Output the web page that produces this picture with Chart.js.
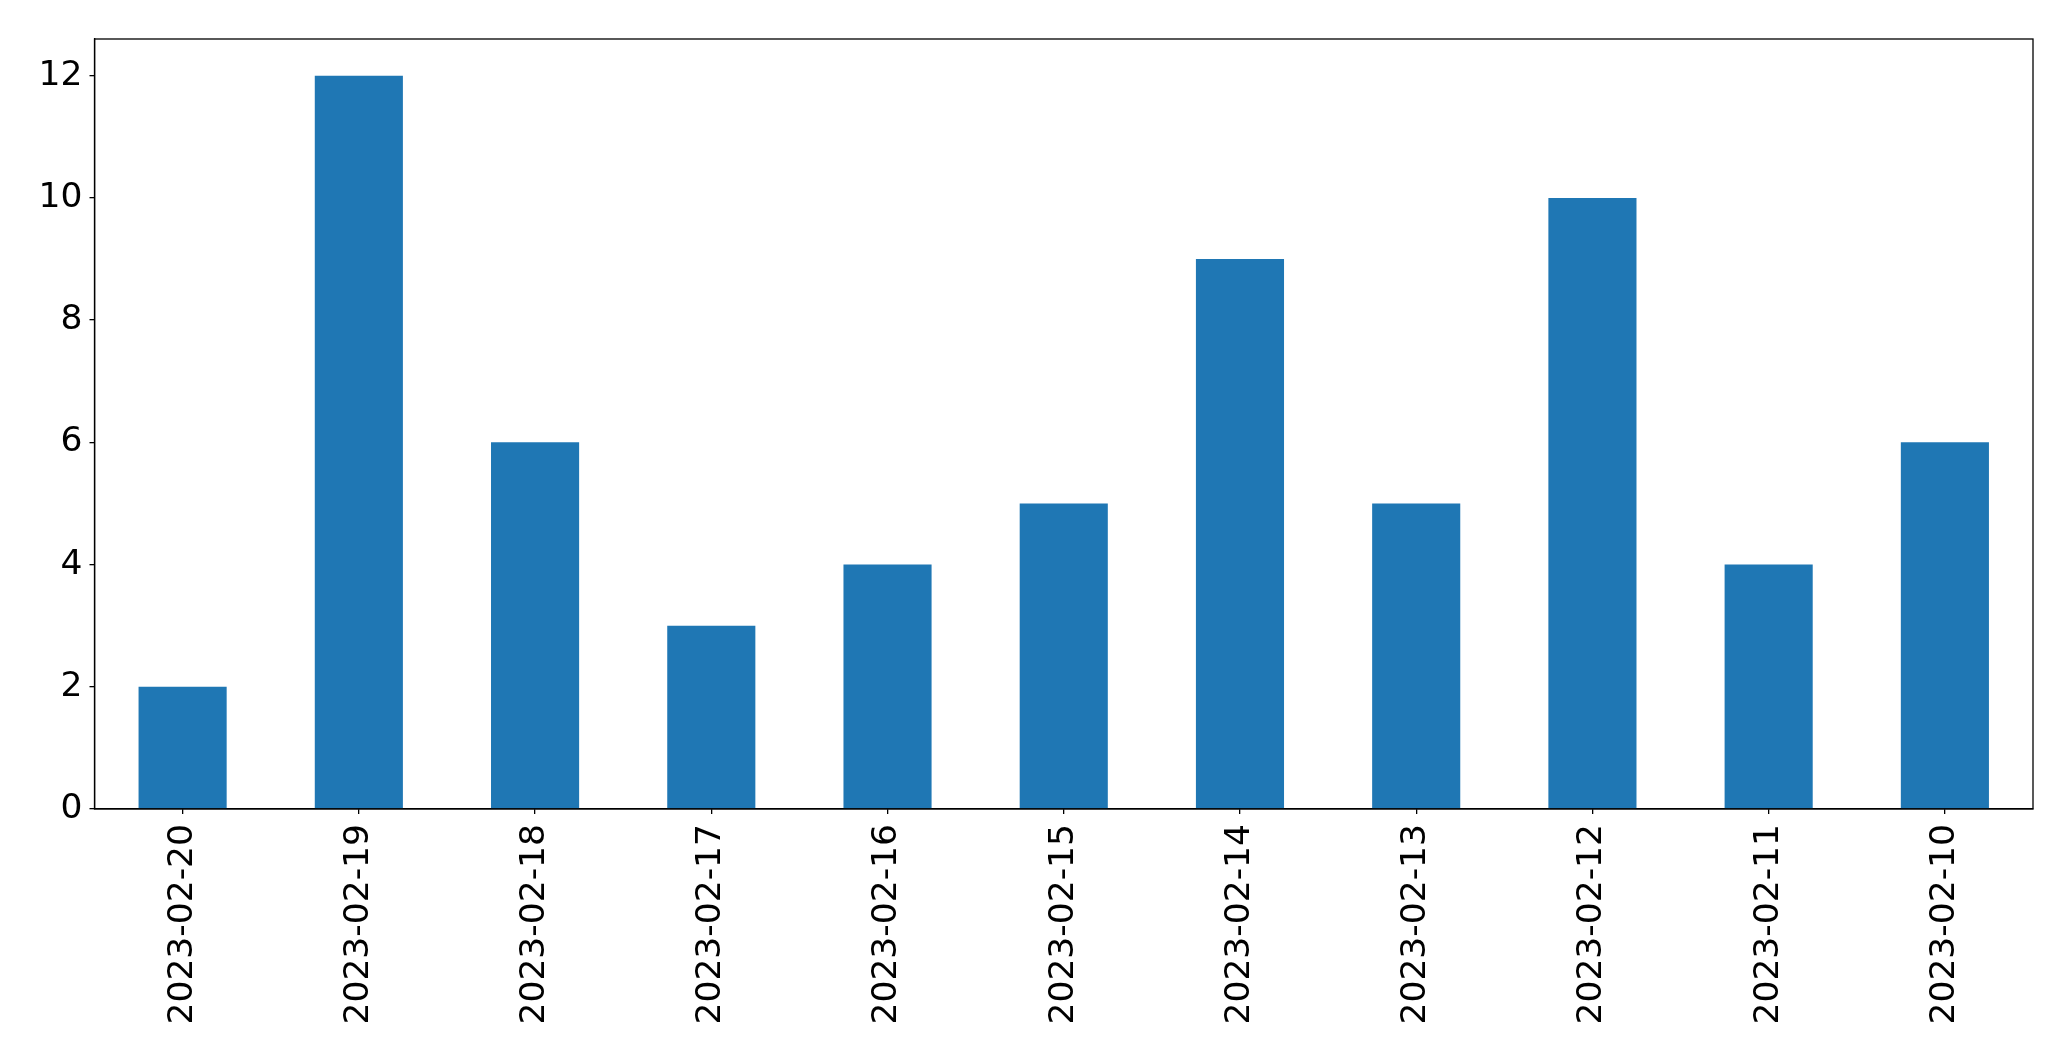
<!DOCTYPE html>
<html>
<head>
<meta charset="utf-8">
<script src="https://cdn.jsdelivr.net/npm/chart.js@4.4.0/dist/chart.umd.min.js"></script>
<style>
html,body{margin:0;padding:0;background:#fff;}
#wrap{width:2071px;height:1061px;position:relative;}
</style>
</head>
<body>
<div id="wrap"><canvas id="c" width="2071" height="1061"></canvas></div>
<script>
const categories = ["2023-02-20","2023-02-19","2023-02-18","2023-02-17","2023-02-16","2023-02-15","2023-02-14","2023-02-13","2023-02-12","2023-02-11","2023-02-10"];
const counts = [2,12,6,3,4,5,9,5,10,4,6];
const yTicks = [0,2,4,6,8,10,12];

const frame = {
  id: 'frame',
  afterDraw(chart){
    const a = chart.chartArea, ctx = chart.ctx;
    ctx.save();
    ctx.strokeStyle = '#000';
    ctx.lineWidth = 1.3;
    ctx.strokeRect(a.left, a.top, a.right - a.left, a.bottom - a.top);
    ctx.restore();
  }
};

const font = {family: 'DejaVu Sans', size: 34.5};
new Chart(document.getElementById('c'), {
  type: 'bar',
  data: {
    labels: categories,
    datasets: [{data: counts, backgroundColor: '#1f77b4', borderWidth: 0, categoryPercentage: 1.0, barPercentage: 0.5}]
  },
  options: {
    responsive: false,
    animation: false,
    devicePixelRatio: 1,
    layout: {padding: {top: 39, right: 38, left: 0, bottom: 0}},
    plugins: {legend: {display: false}, tooltip: {enabled: false}},
    scales: {
      x: {
        offset: true,
        grid: {display: true, drawOnChartArea: false, drawTicks: true, tickLength: 5, color: '#000', offset: false, lineWidth: 1.3},
        border: {display: true, color: '#000', width: 1.3},
        ticks: {color: '#000', font: font, minRotation: 90, maxRotation: 90, padding: 10, autoSkip: false},
        afterFit(s){ s.height = 252; }
      },
      y: {
        min: 0, max: 12.6,
        afterBuildTicks(s){ s.ticks = yTicks.map(v => ({value: v})); },
        grid: {display: true, drawOnChartArea: false, drawTicks: true, tickLength: 5, color: '#000', lineWidth: 1.3},
        border: {display: true, color: '#000', width: 1.3},
        ticks: {color: '#000', font: font, padding: 7},
        afterFit(s){ s.width = 94.5; }
      }
    }
  },
  plugins: [frame]
});
</script>
</body>
</html>
